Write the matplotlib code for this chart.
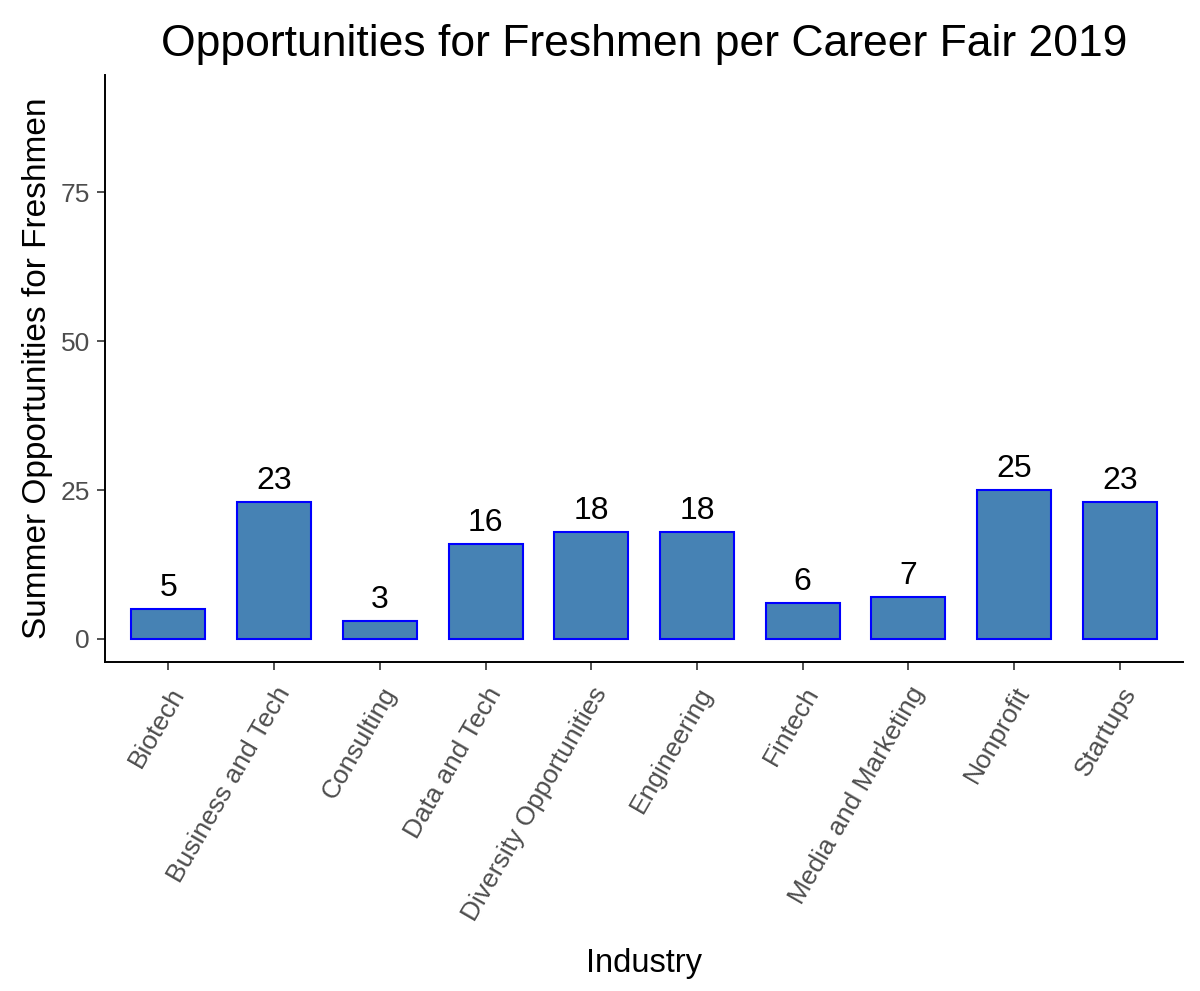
import numpy as np
from matplotlib import pyplot as plt

plt.rcParams['font.family'] = ['Liberation Sans', 'DejaVu Sans']

industries = ['Biotech', 'Business and Tech', 'Consulting', 'Data and Tech',
              'Diversity Opportunities', 'Engineering', 'Fintech',
              'Media and Marketing', 'Nonprofit', 'Startups']
counts = [5, 23, 3, 16, 18, 18, 6, 7, 25, 23]
yticks = [0, 25, 50, 75]

fig = plt.figure(figsize=(12, 9.91), dpi=100)
ax = fig.add_axes([0.0875, 0.332, 0.8985, 0.592])

x = np.arange(len(industries))
ax.bar(x, counts, width=0.7, color='#4682B4', edgecolor='blue', linewidth=1.5)
for xi, c in zip(x, counts):
    ax.text(xi, c + 2.2, str(c), ha='center', va='baseline', fontsize=23, color='black')

ax.set_xlim(-0.6, 9.6)
ax.set_ylim(-3.86, 94.6)
ax.set_yticks(yticks)
ax.set_xticks(x)
ax.set_xticklabels(industries, rotation=60, ha='right', rotation_mode='anchor')
ax.tick_params(axis='both', labelsize=19, labelcolor='#4D4D4D', color='#333333',
               length=6, width=1.2)
ax.tick_params(axis='x', pad=9)
ax.tick_params(axis='y', pad=5)

for s in ['top', 'right']:
    ax.spines[s].set_visible(False)
for s in ['left', 'bottom']:
    ax.spines[s].set_linewidth(1.4)

ax.set_xlabel('Industry', fontsize=23.5, labelpad=17)
ax.set_ylabel('Summer Opportunities for Freshmen', fontsize=24, labelpad=5)
fig.suptitle('Opportunities for Freshmen per Career Fair 2019', fontsize=32, x=0.537, y=0.976, va='top')

plt.savefig('out.png', dpi=100)
